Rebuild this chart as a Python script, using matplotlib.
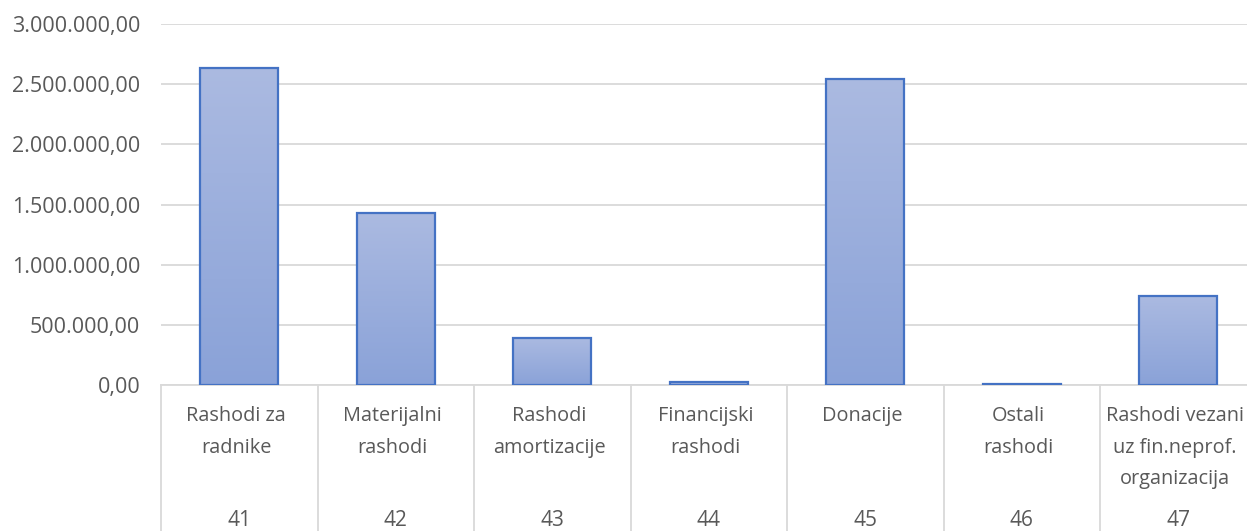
import matplotlib
matplotlib.use("Agg")
import matplotlib.pyplot as plt
import numpy as np
from matplotlib.ticker import FuncFormatter
from matplotlib.transforms import blended_transform_factory

codes = ["41", "42", "43", "44", "45", "46", "47"]
names = ["Rashodi za\nradnike", "Materijalni\nrashodi", "Rashodi\namortizacije",
         "Financijski\nrashodi", "Donacije", "Ostali\nrashodi",
         "Rashodi vezani\nuz fin.neprof.\norganizacija"]
values = [2635000, 1430000, 392000, 22000, 2540000, 6000, 742000]
yticks = [0, 500000, 1000000, 1500000, 2000000, 2500000, 3000000]

TXT, GRID, EDGE = "#595959", "#d9d9d9", "#4472c4"
plt.rcParams.update({"font.family": ["Open Sans", "DejaVu Sans"], "font.size": 15})


def hr_fmt(v, _pos=None):
    s = f"{v:,.2f}"
    return s.replace(",", "X").replace(".", ",").replace("X", ".")


fig = plt.figure(figsize=(12.47, 5.31), dpi=100)
W, H = 1247, 531
left, right, top, bot = 161, 1256.5, 24, 385
ax = fig.add_axes([left / W, 1 - bot / H, (right - left) / W, (bot - top) / H])

# bars with a vertical gradient, light at the top
grad = np.linspace(0, 1, 256).reshape(-1, 1)
cmap = matplotlib.colors.LinearSegmentedColormap.from_list("g", ["#8aa2d8", "#abbae1"])
bars = ax.bar(range(len(codes)), values, width=0.5, color="none", edgecolor=EDGE, lw=1.6, zorder=3)
for b in bars:
    x0, w, h = b.get_x(), b.get_width(), b.get_height()
    ax.imshow(grad, extent=(x0, x0 + w, 0, h), origin="lower", cmap=cmap, aspect="auto", zorder=2)
ax.set_xlim(-0.5, len(codes) - 0.5)
ax.set_ylim(0, 3000000)

ax.set_yticks(yticks)
ax.yaxis.set_major_formatter(FuncFormatter(hr_fmt))
ax.grid(axis="y", color=GRID, lw=1.3, zorder=0)
ax.set_axisbelow(True)
ax.tick_params(axis="y", length=0, pad=15, labelsize=15.5, labelcolor=TXT)
ax.tick_params(axis="x", length=0, labelbottom=False)
for s in ("top", "right", "left"):
    ax.spines[s].set_visible(False)
ax.spines["bottom"].set_color(GRID)
ax.spines["bottom"].set_linewidth(1.3)

# two-level category axis: names, then account codes, with separators
tr = blended_transform_factory(ax.transData, ax.transAxes)
depth = -(H - bot) / (bot - top)
for i in range(len(codes) + 1):
    ax.plot([i - 0.5, i - 0.5], [0, depth - 0.05], color=GRID, lw=1.3, transform=tr, clip_on=False)
for i, (n, c) in enumerate(zip(names, codes)):
    ax.text(i - 0.02, -(406 - bot) / (bot - top), n, transform=tr, ha="center", va="top",
            color=TXT, fontsize=14.3, linespacing=1.78)
    ax.text(i, -(520 - bot) / (bot - top), c, transform=tr, ha="center", va="center",
            color=TXT, fontsize=15)

fig.savefig("out.png", dpi=100)
